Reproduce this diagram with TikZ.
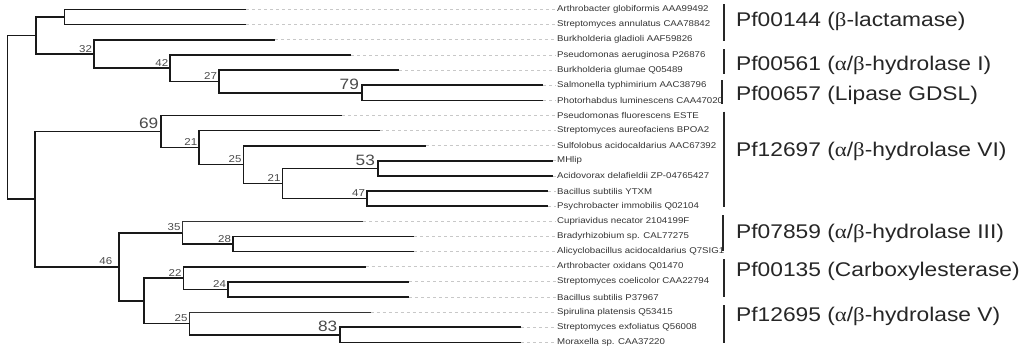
\documentclass[tikz,border=0pt]{standalone}
\usepackage{fontspec}
\setmainfont{Liberation Sans}[FakeStretch=1.15]
\newfontfamily\grk{Liberation Serif}[FakeStretch=1.15]
\usepackage{xcolor}
\usepackage{tikz}
\usetikzlibrary{positioning}
\definecolor{leafgray}{HTML}{333333}
\definecolor{bootgray}{HTML}{4A4A4A}
\definecolor{guidegray}{HTML}{C8C8C8}
\tikzstyle{branch} = [line width=1.6pt, draw=black!90]
\tikzstyle{thinbranch} = [line width=1.1pt, draw=black!80]
\tikzstyle{guide} = [line width=0.7pt, draw=guidegray, dash pattern=on 3pt off 3pt]
\tikzstyle{leaf} = [anchor=west, inner sep=1pt, text=leafgray, font=\fontsize{8.4}{9}\selectfont]
\tikzstyle{boot} = [anchor=south east, inner sep=1.6pt, text=bootgray, font=\fontsize{10}{11}\selectfont]
\tikzstyle{bigboot} = [anchor=south east, inner sep=2.6pt, text=bootgray, font=\fontsize{15}{16}\selectfont]
\tikzstyle{fam} = [anchor=west, inner sep=2pt, text=black!85, font=\fontsize{19.8}{21}\selectfont]
\tikzstyle{bar} = [line width=1.6pt, draw=black!85]

\begin{document}
\begin{tikzpicture}[x=1pt, y=-1pt]
    \useasboundingbox (0,0) rectangle (1024,351);

    % inner nodes of the tree
    \coordinate (r) at (7.3,117.3);
    \coordinate (a) at (35.7,35.5);
    \coordinate (a1) at (64.3,17.05);
    \coordinate (a2) at (93.7,54.0);
    \coordinate (a3) at (170,68.1);
    \coordinate (a4) at (218.7,81.4);
    \coordinate (a5) at (361.7,92.75);
    \coordinate (b) at (35,199.1);
    \coordinate (b1) at (161,131.5);
    \coordinate (b3) at (199,147.55);
    \coordinate (b4) at (243.3,164.6);
    \coordinate (b5) at (282.3,183.5);
    \coordinate (b6) at (377.7,168.35);
    \coordinate (b7) at (366.7,198.65);
    \coordinate (b2) at (119,266.7);
    \coordinate (c1) at (182.3,232.7);
    \coordinate (c3) at (232.7,244.05);
    \coordinate (c2) at (144,300.75);
    \coordinate (c4) at (183.3,278.05);
    \coordinate (c6) at (227.7,289.4);
    \coordinate (c5) at (189.3,323.45);
    \coordinate (c7) at (340,334.8);

    % leaves
    \node (agl) [leaf] at (556,9.5) {Arthrobacter globiformis AAA99492};
    \node (san) [leaf] at (556,24.6) {Streptomyces annulatus CAA78842};
    \node (bgla) [leaf] at (556,39.8) {Burkholderia gladioli AAF59826};
    \node (paer) [leaf] at (556,54.9) {Pseudomonas aeruginosa P26876};
    \node (bglu) [leaf] at (556,70.0) {Burkholderia glumae Q05489};
    \node (sty) [leaf] at (556,85.2) {Salmonella typhimirium AAC38796};
    \node (plu) [leaf] at (556,100.3) {Photorhabdus luminescens CAA47020};
    \node (pfl) [leaf] at (556,115.4) {Pseudomonas fluorescens ESTE};
    \node (sau) [leaf] at (556,130.5) {Streptomyces aureofaciens BPOA2};
    \node (sac) [leaf] at (556,145.7) {Sulfolobus acidocaldarius AAC67392};
    \node (mhl) [leaf] at (556,160.8) {MHlip};
    \node (ade) [leaf] at (556,175.9) {Acidovorax delafieldii ZP-04765427};
    \node (bsy) [leaf] at (556,191.1) {Bacillus subtilis YTXM};
    \node (pim) [leaf] at (556,206.2) {Psychrobacter immobilis Q02104};
    \node (cne) [leaf] at (556,221.3) {Cupriavidus necator 2104199F};
    \node (bra) [leaf] at (556,236.5) {Bradyrhizobium sp. CAL77275};
    \node (aac) [leaf] at (556,251.6) {Alicyclobacillus acidocaldarius Q7SIG1};
    \node (aox) [leaf] at (556,266.7) {Arthrobacter oxidans Q01470};
    \node (sco) [leaf] at (556,281.8) {Streptomyces coelicolor CAA22794};
    \node (bsp) [leaf] at (556,297.0) {Bacillus subtilis P37967};
    \node (spl) [leaf] at (556,312.1) {Spirulina platensis Q53415};
    \node (sex) [leaf] at (556,327.2) {Streptomyces exfoliatus Q56008};
    \node (mor) [leaf] at (556,342.4) {Moraxella sp. CAA37220};

    % branch tips
    \coordinate (agl-e) at (246,9.5);
    \coordinate (san-e) at (246,24.6);
    \coordinate (bgla-e) at (275.3,39.8);
    \coordinate (paer-e) at (351,54.9);
    \coordinate (bglu-e) at (399.3,70.0);
    \coordinate (sty-e) at (543.3,85.2);
    \coordinate (plu-e) at (543.3,100.3);
    \coordinate (pfl-e) at (342.3,115.4);
    \coordinate (sau-e) at (380,130.5);
    \coordinate (sac-e) at (425.7,145.7);
    \coordinate (mhl-e) at (553,160.8);
    \coordinate (ade-e) at (553,175.9);
    \coordinate (bsy-e) at (548.3,191.1);
    \coordinate (pim-e) at (548.3,206.2);
    \coordinate (cne-e) at (363.3,221.3);
    \coordinate (bra-e) at (414.3,236.5);
    \coordinate (aac-e) at (414.3,251.6);
    \coordinate (aox-e) at (365.7,266.7);
    \coordinate (sco-e) at (409,281.8);
    \coordinate (bsp-e) at (409,297.0);
    \coordinate (spl-e) at (370.7,312.1);
    \coordinate (sex-e) at (521,327.2);
    \coordinate (mor-e) at (521,342.4);

    % dashed guides to the names
    \foreach \l in {agl,san,bgla,paer,bglu,sty,plu,pfl,sau,sac,mhl,ade,bsy,pim,cne,bra,aac,aox,sco,bsp,spl,sex,mor}
        \draw [guide] (\l-e) -- (\l.west);

    % branches
    \draw [branch] (r) |- (a);
    \draw [branch] (r) |- (b);
    \draw [branch] (a) |- (a1);
    \draw [branch] (a) |- (a2);
    \draw [branch] (a1) |- (agl-e);
    \draw [branch] (a1) |- (san-e);
    \draw [branch] (a2) |- (bgla-e);
    \draw [branch] (a2) |- (a3);
    \draw [branch] (a3) |- (paer-e);
    \draw [branch] (a3) |- (a4);
    \draw [branch] (a4) |- (bglu-e);
    \draw [branch] (a4) |- (a5);
    \draw [branch] (a5) |- (sty-e);
    \draw [branch] (a5) |- (plu-e);
    \draw [branch] (b) |- (b1);
    \draw [branch] (b) |- (b2);
    \draw [branch] (b1) |- (pfl-e);
    \draw [branch] (b1) |- (b3);
    \draw [branch] (b3) |- (sau-e);
    \draw [branch] (b3) |- (b4);
    \draw [branch] (b4) |- (sac-e);
    \draw [branch] (b4) |- (b5);
    \draw [branch] (b5) |- (b6);
    \draw [branch] (b5) |- (b7);
    \draw [branch] (b6) |- (mhl-e);
    \draw [branch] (b6) |- (ade-e);
    \draw [branch] (b7) |- (bsy-e);
    \draw [branch] (b7) |- (pim-e);
    \draw [branch] (b2) |- (c1);
    \draw [branch] (b2) |- (c2);
    \draw [thinbranch] (c1) |- (cne-e);
    \draw [branch] (c1) |- (c3);
    \draw [branch] (c3) |- (bra-e);
    \draw [branch] (c3) |- (aac-e);
    \draw [branch] (c2) |- (c4);
    \draw [branch] (c2) |- (c5);
    \draw [branch] (c4) |- (aox-e);
    \draw [branch] (c4) |- (c6);
    \draw [branch] (c6) |- (sco-e);
    \draw [branch] (c6) |- (bsp-e);
    \draw [thinbranch] (c5) |- (spl-e);
    \draw [branch] (c5) |- (c7);
    \draw [branch] (c7) |- (sex-e);
    \draw [branch] (c7) |- (mor-e);

    % bootstrap values
    \node (bs-a2) [boot] at (a2) {32};
    \node (bs-a3) [boot] at (a3) {42};
    \node (bs-a4) [boot] at (a4) {27};
    \node (bs-a5) [bigboot] at (a5) {79};
    \node (bs-b1) [bigboot] at (b1) {69};
    \node (bs-b3) [boot] at (b3) {21};
    \node (bs-b4) [boot] at (b4) {25};
    \node (bs-b5) [boot] at (b5) {21};
    \node (bs-b6) [bigboot] at (b6) {53};
    \node (bs-b7) [boot] at (b7) {47};
    \node (bs-b2) [boot, xshift=-5pt] at (b2) {46};
    \node (bs-c1) [boot] at (c1) {35};
    \node (bs-c3) [boot] at (c3) {28};
    \node (bs-c4) [boot] at (c4) {22};
    \node (bs-c6) [boot] at (c6) {24};
    \node (bs-c5) [boot] at (c5) {25};
    \node (bs-c7) [bigboot] at (c7) {83};

    % families
    \coordinate (f1-t) at (724,4);     \coordinate (f1-b) at (724,40.7);
    \coordinate (f2-t) at (724,49.3);  \coordinate (f2-b) at (724,74);
    \coordinate (f3-t) at (722,80);    \coordinate (f3-b) at (722,104);
    \coordinate (f4-t) at (724,111.7); \coordinate (f4-b) at (724,206.7);
    \coordinate (f5-t) at (723,215);   \coordinate (f5-b) at (723,250.7);
    \coordinate (f6-t) at (724,259.3); \coordinate (f6-b) at (724,297.3);
    \coordinate (f7-t) at (724,305);   \coordinate (f7-b) at (724,343.3);
    \foreach \f in {f1,f2,f3,f4,f5,f6,f7}
        \draw [bar] (\f-t) -- (\f-b);

    \node (pf00144) [fam] at (734,21) {Pf00144 ({\grk β}-lactamase)};
    \node (pf00561) [fam] at (734,65) {Pf00561 ({\grk α}/{\grk β}-hydrolase I)};
    \node (pf00657) [fam] at (734,95) {Pf00657 (Lipase GDSL)};
    \node (pf12697) [fam] at (734,151.7) {Pf12697 ({\grk α}/{\grk β}-hydrolase VI)};
    \node (pf07859) [fam] at (734,233.3) {Pf07859 ({\grk α}/{\grk β}-hydrolase III)};
    \node (pf00135) [fam] at (734,271.7) {Pf00135 (Carboxylesterase)};
    \node (pf12695) [fam] at (734,316.7) {Pf12695 ({\grk α}/{\grk β}-hydrolase V)};
\end{tikzpicture}
\end{document}
